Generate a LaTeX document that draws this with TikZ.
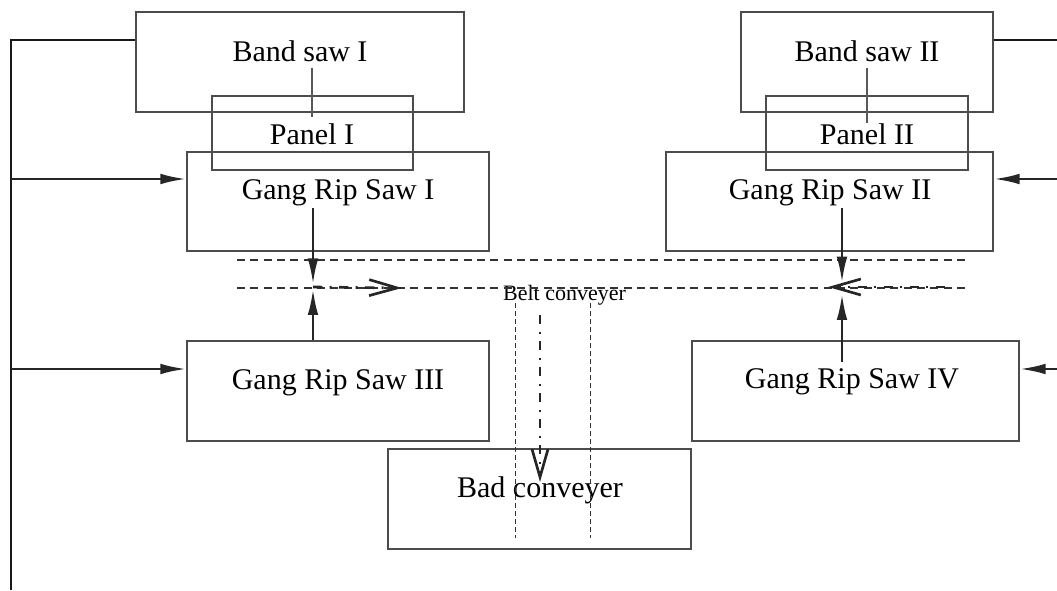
\documentclass[tikz,border=0pt]{standalone}
\usepackage{fontspec}
\setmainfont{Liberation Serif}
\usetikzlibrary{arrows.meta,positioning}

\tikzset{every picture/.style={line width=0.75pt}}
\tikzset{
  machine/.style={draw=black!70, line width=1pt, rectangle, inner sep=0pt},
  caption/.style={anchor=base, inner sep=0.75pt, font=\fontsize{22.5}{26}\selectfont},
  beltcaption/.style={anchor=base, inner sep=0.75pt, font=\fontsize{16.5}{19}\selectfont},
  wire/.style={draw=black!90, line width=1pt},
  tie/.style={draw=black!65, line width=0.8pt},
  feed/.style={draw=black!85, line width=2pt, -{Latex[length=19.5pt,width=8pt]}},
  pass/.style={draw=black!85, line width=2pt, dash pattern=on 7pt off 5.5pt on 1.5pt off 5.5pt,
    -{Straight Barb[length=21pt,width=12pt,line width=2pt]}},
  belt/.style={draw=black!80, line width=1.1pt, dash pattern=on 6pt off 4pt},
  rail/.style={draw=black!80, line width=0.75pt, dash pattern=on 3.5pt off 2.5pt}
}

\begin{document}
\begin{tikzpicture}[x=0.75pt,y=0.75pt,yscale=-1]
\useasboundingbox (0,0) rectangle (1057,591);

%Shape: Rectangle
\node[machine, minimum width=246pt, minimum height=75pt] (bs1) at (300,62) {};
\node[machine, minimum width=189pt, minimum height=75pt] (bs2) at (867,62) {};
%Shape: Rectangle
\node[machine, minimum width=150.75pt, minimum height=55.5pt] (p1) at (312.5,133) {};
\node[machine, minimum width=151.5pt, minimum height=55.5pt] (p2) at (867,133) {};
%Shape: Rectangle
\node[machine, minimum width=226.5pt, minimum height=74.25pt] (g1) at (338,201.5) {};
\node[machine, minimum width=245.25pt, minimum height=74.25pt] (g2) at (829.5,201.5) {};
\node[machine, minimum width=226.5pt, minimum height=75pt] (g3) at (338,391) {};
\node[machine, minimum width=245.25pt, minimum height=75pt] (g4) at (855.5,391) {};
%Shape: Rectangle
\node[machine, minimum width=227.25pt, minimum height=75pt] (bad) at (539.5,499) {};

% Text Node
\node[caption] (bs1t) at (300,62) {Band saw I};
\node[caption] (bs2t) at (867,62) {Band saw II};
% Text Node
\node[caption] (p1t) at (312,145) {Panel I};
\node[caption] (p2t) at (867,145) {Panel II};
% Text Node
\node[caption] (g1t) at (338,200) {Gang Rip Saw I};
\node[caption] (g2t) at (830,200) {Gang Rip Saw II};
\node[caption] (g3t) at (338,390) {Gang Rip Saw III};
\node[caption] (g4t) at (852,389) {Gang Rip Saw IV};
% Text Node
\node[caption] (badt) at (540,498) {Bad conveyer};
\node[beltcaption] (beltt) at (564.5,300.5) {Belt conveyer};

%Straight Lines
\draw[tie, shorten <=3pt, shorten >=4pt] (bs1t.south -| p1t) -- (p1t.north);
\draw[tie, shorten <=3pt] (bs2t.south -| p2t) -- (p2t.north);

%Straight Lines
\coordinate (topL) at (11,40);
\coordinate (botL) at (11,590);
\coordinate (topR) at (1057,40);
\draw[wire] (botL) -- (topL) -- (topL -| bs1.west);
\draw[wire] (bs2.east |- topR) -- (topR);

%Straight Lines
\coordinate (in1) at (11,179);
\coordinate (in3) at (11,369);
\coordinate (in2) at (1057,179);
\coordinate (in4) at (1057,369);
\draw[feed] (in1) -- (in1 -| g1.west);
\draw[feed] (in3) -- (in3 -| g3.west);
\draw[feed] (in2) -- (in2 -| g2.east);
\draw[feed] (in4) -- (in4 -| g4.east);

% belt conveyer
\coordinate (beltA) at (237,260);
\coordinate (beltB) at (970,260);
\coordinate (beltC) at (237,288);
\coordinate (beltD) at (970,288);
\draw[belt] (beltA) -- (beltB);
\draw[belt] (beltC) -- (beltD);
\draw[rail] (515,303) -- (515,538);
\draw[rail] (590,303) -- (590,538);

%Straight Lines
\coordinate (meet1) at (313,287);
\coordinate (meet2) at (842,288);
\draw[feed, shorten >=2pt] (g1t.south -| meet1) -- (meet1);
\draw[feed, shorten >=1.5pt] (g3.north -| meet1) -- (meet1);
\draw[feed, shorten >=4pt] (g2t.south -| meet2) -- (meet2);
\draw[feed, shorten >=4.5pt] ([yshift=16.5pt]g4.north -| meet2) -- (meet2);

%Straight Lines
\coordinate (outL) at (402,288);
\coordinate (outR) at (828,287);
\coordinate (drop) at (540,315);
\coordinate (dropEnd) at (540,482);
\draw[pass] (meet1) -- (outL);
\draw[pass] (945,287) -- (outR);
\draw[pass] (drop) -- (dropEnd);

\end{tikzpicture}
\end{document}
